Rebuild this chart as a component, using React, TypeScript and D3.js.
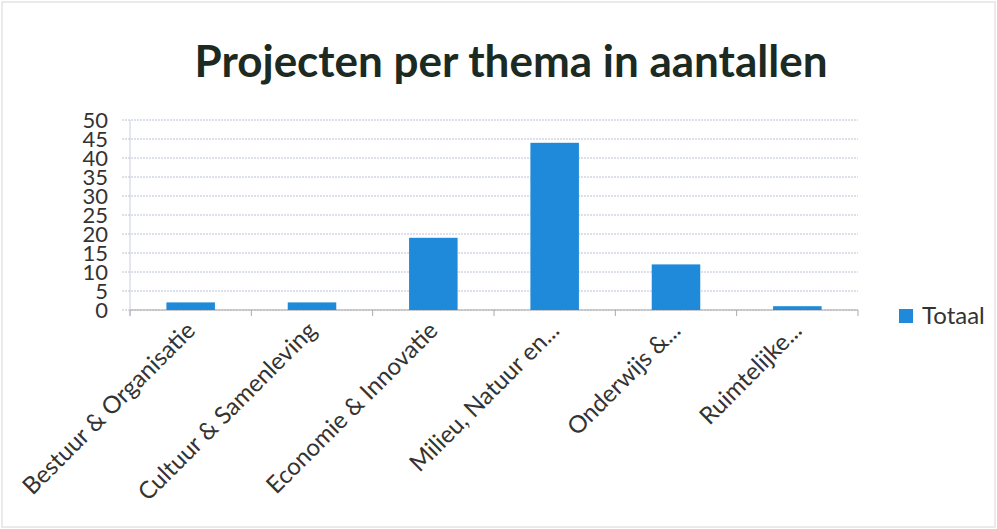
import React from "react";
import * as d3 from "d3";

const categories = [
  "Bestuur & Organisatie",
  "Cultuur & Samenleving",
  "Economie & Innovatie",
  "Milieu, Natuur en...",
  "Onderwijs &...",
  "Ruimtelijke...",
];
const totaal = [2, 2, 19, 44, 12, 1];
const yTicks = [0, 5, 10, 15, 20, 25, 30, 35, 40, 45, 50];
const seriesName = "Totaal";
const title = "Projecten per thema in aantallen";

const W = 997;
const H = 529;
const left = 130;
const right = 858;
const top = 120;
const bottom = 310;
const barColor = "#1f8ad9";
const font = "Lato, 'Open Sans', sans-serif";

export default function App() {
  const x = d3.scaleBand<string>().domain(categories).range([left, right]).paddingInner(0.6).paddingOuter(0.3);
  const y = d3.scaleLinear().domain([0, 50]).range([bottom, top]);
  const step = x.step();
  return (
    <svg width={W} height={H} style={{ position: "absolute", left: 0, top: 0, background: "#fff" }}>
      <rect x={0} y={0} width={W} height={H} fill="#fff" />
      <rect x={2} y={2} width={W - 4} height={H - 4} fill="none" stroke="#e4e4e4" strokeWidth={1.5} />
      <text x={511} y={77} textAnchor="middle" fontFamily={font} fontWeight={700} fontSize={44} fill="#1b2a22">
        {title}
      </text>
      {yTicks.map((t) => (
        <g key={t}>
          <line x1={122} x2={right} y1={y(t)} y2={y(t)} stroke="#b9c2d6" strokeWidth={1} strokeDasharray="2,1" />
          <text x={108} y={y(t)} dy="0.36em" textAnchor="end" fontFamily={font} fontSize={22} fill="#333">
            {t}
          </text>
        </g>
      ))}
      <line x1={left} x2={left} y1={top} y2={bottom + 6} stroke="#c9cfe0" strokeWidth={1} />
      <line x1={left} x2={right} y1={bottom} y2={bottom} stroke="#a9a9a9" strokeWidth={1.2} />
      {d3.range(categories.length + 1).map((i) => (
        <line key={i} x1={left + i * step} x2={left + i * step} y1={bottom} y2={bottom + 6} stroke="#a9a9a9" strokeWidth={1} />
      ))}
      {categories.map((c, i) => (
        <rect key={c} x={x(c)!} y={y(totaal[i])} width={x.bandwidth()} height={bottom - y(totaal[i])} fill={barColor} />
      ))}
      {categories.map((c) => {
        const cx = (x(c) as number) + x.bandwidth() / 2 + 6;
        const cy = bottom + 22;
        return (
          <text key={c} transform={`translate(${cx},${cy}) rotate(-45)`} textAnchor="end" fontFamily={font} fontSize={24} fill="#333">
            {c}
          </text>
        );
      })}
      <rect x={899} y={309} width={14} height={14} fill={barColor} />
      <text x={922} y={324} fontFamily={font} fontSize={24} fill="#333">
        {seriesName}
      </text>
    </svg>
  );
}
